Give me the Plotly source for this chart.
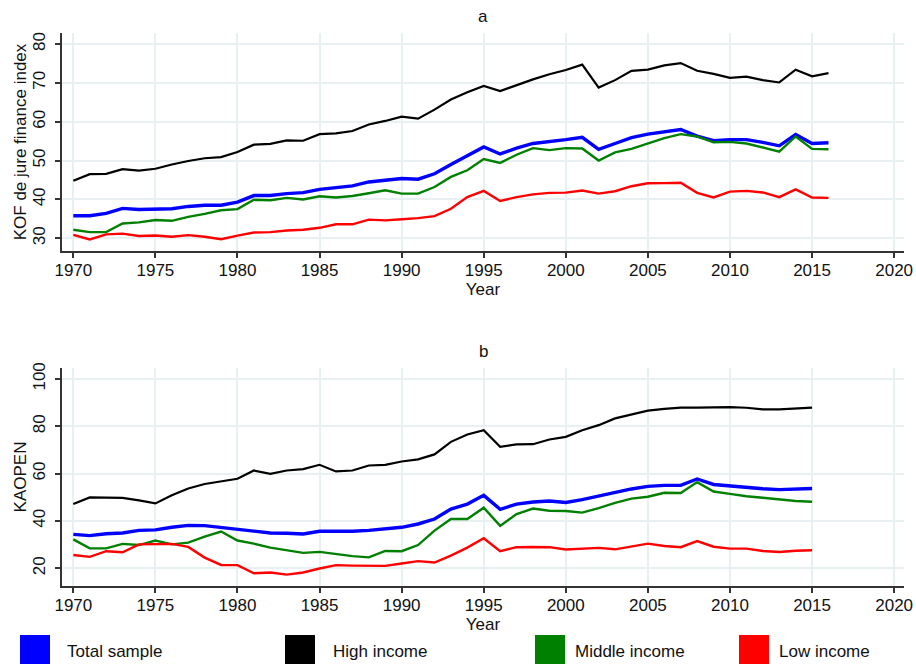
import plotly.graph_objects as go

years_a = list(range(1970, 2017))
years_b = list(range(1970, 2016))

kof_total = [35.8, 35.8, 36.4, 37.7, 37.4, 37.4, 37.6, 38.2, 38.5, 38.5,
             39.3, 41.0, 41.0, 41.5, 41.75, 42.6, 43.0, 43.5, 44.5, 44.9,
             45.4, 45.2, 46.6, 49.0, 51.3, 53.5, 51.7, 53.2, 54.4, 54.8,
             55.4, 56.0, 52.9, 54.4, 55.9, 56.8, 57.5, 58.0, 56.3, 55.1,
             55.4, 55.4, 54.7, 53.8, 56.7, 54.4, 54.6]
kof_high = [44.8, 46.5, 46.6, 47.8, 47.4, 47.9, 49.0, 49.9, 50.6, 50.9,
            52.2, 54.1, 54.3, 55.2, 55.1, 56.8, 57.0, 57.6, 59.3, 60.2,
            61.3, 60.8, 63.1, 65.7, 67.6, 69.2, 67.9, 69.5, 70.9, 72.2,
            73.3, 74.7, 68.8, 70.7, 73.1, 73.4, 74.5, 75.1, 73.1, 72.3,
            71.3, 71.6, 70.7, 70.1, 73.4, 71.7, 72.5]
kof_middle = [32.2, 31.6, 31.6, 33.8, 34.1, 34.7, 34.5, 35.5, 36.3, 37.2,
              37.5, 39.9, 39.8, 40.4, 40.0, 40.8, 40.5, 40.9, 41.6, 42.35,
              41.5, 41.5, 43.2, 45.8, 47.5, 50.4, 49.4, 51.5, 53.2, 52.7,
              53.2, 53.1, 50.0, 52.1, 53.0, 54.5, 55.8, 56.8, 56.2, 54.7,
              54.8, 54.4, 53.4, 52.3, 56.2, 53.0, 52.9]
kof_low = [30.9, 29.7, 31.0, 31.2, 30.6, 30.7, 30.4, 30.8, 30.4, 29.75,
           30.7, 31.5, 31.6, 32.0, 32.2, 32.7, 33.6, 33.6, 34.8, 34.6,
           34.9, 35.2, 35.7, 37.6, 40.6, 42.2, 39.6, 40.6, 41.3, 41.7,
           41.75, 42.3, 41.5, 42.1, 43.4, 44.15, 44.2, 44.3, 41.7, 40.5,
           42.0, 42.2, 41.8, 40.6, 42.6, 40.5, 40.4]

kaopen_total = [34.3, 33.8, 34.6, 34.9, 36.0, 36.2, 37.3, 38.1, 38.0, 37.3,
                36.45, 35.9, 34.9, 34.8, 34.5, 35.6, 35.6, 35.6, 36.0, 36.6,
                37.3, 38.7, 40.8, 45.0, 47.1, 50.8, 44.9, 47.1, 48.0, 48.4,
                47.8, 49.0, 50.5, 51.9, 53.5, 54.6, 55.0, 55.0, 57.7, 55.4,
                54.7, 54.3, 53.6, 53.2, 53.5, 53.7]
kaopen_high = [47.1, 49.95, 49.8, 49.7, 48.7, 47.4, 50.8, 53.7, 55.6, 56.7,
               57.8, 61.3, 59.9, 61.3, 61.9, 63.7, 60.9, 61.3, 63.4, 63.7,
               65.1, 66.0, 68.1, 73.4, 76.5, 78.3, 71.3, 72.3, 72.4, 74.4,
               75.5, 78.3, 80.45, 83.3, 85.1, 86.6, 87.35, 87.9, 87.9, 88.05,
               88.05, 87.8, 87.1, 87.1, 87.6, 87.9]
kaopen_middle = [32.2, 28.4, 28.4, 30.3, 29.8, 31.7, 30.1, 30.8, 33.4, 35.5,
                 31.7, 30.4, 28.7, 27.7, 26.5, 26.9, 25.9, 25.1, 24.6, 27.3,
                 27.2, 29.8, 35.9, 40.8, 40.8, 45.6, 37.9, 42.9, 45.2, 44.3,
                 44.2, 43.5, 45.4, 47.6, 49.4, 50.2, 51.9, 51.8, 56.4, 52.4,
                 51.4, 50.4, 49.8, 49.0, 48.4, 48.1]
kaopen_low = [25.6, 24.8, 27.2, 26.75, 30.1, 30.3, 30.3, 29.0, 24.5, 21.4,
              21.3, 17.9, 18.2, 17.3, 18.2, 19.9, 21.3, 21.1, 21.0, 21.0,
              22.0, 23.0, 22.4, 25.3, 28.7, 32.65, 27.2, 28.9, 29.0, 28.9,
              27.9, 28.3, 28.6, 28.0, 29.1, 30.4, 29.4, 28.9, 31.5, 29.1,
              28.3, 28.3, 27.3, 26.85, 27.4, 27.6]

series_names = ["Total sample", "High income", "Middle income", "Low income"]
series_colors = ["#0000ff", "#000000", "#008000", "#ff0000"]
series_widths = [3.4, 2.2, 2.4, 2.4]
panel_a = [kof_total, kof_high, kof_middle, kof_low]
panel_b = [kaopen_total, kaopen_high, kaopen_middle, kaopen_low]

W, H = 916, 664
ML, MR, MT, MB = 62, 12, 33, 78
PW = W - ML - MR
PH = H - MT - MB


def px_x(px):
    return (px - ML) / PW


def px_y(py):
    return (H - MB - py) / PH


FONT = "Liberation Sans, Arial, sans-serif"

fig = go.Figure()
for name, color, width, ya, yb in zip(series_names, series_colors, series_widths, panel_a, panel_b):
    fig.add_trace(go.Scatter(x=years_a, y=ya, mode="lines", name=name,
                             line=dict(color=color, width=width),
                             xaxis="x", yaxis="y", showlegend=False))
    fig.add_trace(go.Scatter(x=years_b, y=yb, mode="lines", name=name,
                             line=dict(color=color, width=width),
                             xaxis="x2", yaxis="y2", showlegend=False))

grid = "#e8f0f2"
axis_common = dict(showline=True, linecolor="#333333", linewidth=1.5, automargin=False,
                   ticks="outside", ticklen=5, tickwidth=1.5, tickcolor="#333333",
                   showgrid=True, gridcolor=grid, gridwidth=1.5, zeroline=False,
                   tickfont=dict(family=FONT, size=17, color="#111111"))

xr = [1969.31, 2020.6]
fig.update_layout(
    width=W, height=H,
    margin=dict(l=ML, r=MR, t=MT, b=MB),
    paper_bgcolor="white", plot_bgcolor="white",
    font=dict(family=FONT, size=17, color="#111111"),
    xaxis=dict(domain=[0, 1], anchor="y", range=xr, tick0=1970, dtick=5,
               ticklabelstandoff=-2,
               title=dict(text="Year", standoff=2, font=dict(size=17)), **axis_common),
    yaxis=dict(domain=[px_y(251), 1.0], anchor="x", range=[26.73, 82.83],
               tickvals=[30, 40, 50, 60, 70, 80], tickangle=-90, ticklabelstandoff=3,
               title=dict(text="KOF de jure finance index", standoff=0, font=dict(size=17)),
               **axis_common),
    xaxis2=dict(domain=[0, 1], anchor="y2", range=xr, tick0=1970, dtick=5,
                ticklabelstandoff=-2,
                title=dict(text="Year", standoff=2, font=dict(size=17)), **axis_common),
    yaxis2=dict(domain=[0, px_y(368)], anchor="x2", range=[12.5, 104.6],
                tickvals=[20, 40, 60, 80, 100], tickangle=-90, ticklabelstandoff=3,
                title=dict(text="KAOPEN", standoff=0, font=dict(size=17)), **axis_common),
)

# panel titles
fig.add_annotation(text="a", x=0.5, y=px_y(16.7), xref="paper", yref="paper",
                   showarrow=False, yanchor="middle", font=dict(size=17))
fig.add_annotation(text="b", x=0.5, y=px_y(351.7), xref="paper", yref="paper",
                   showarrow=False, yanchor="middle", font=dict(size=17))

# legend (keys drawn as squares below the plot)
key_left = [20, 285, 535, 739]
text_left = [65, 331, 573, 777]
for name, color, kx, tx in zip(series_names, series_colors, key_left, text_left):
    fig.add_shape(type="rect", xref="paper", yref="paper",
                  x0=px_x(kx), x1=px_x(kx + 30), y0=px_y(664), y1=px_y(635),
                  fillcolor=color, line=dict(width=0))
    fig.add_annotation(text=name, xref="paper", yref="paper",
                       x=px_x(tx), y=px_y(651), xanchor="left", yanchor="middle",
                       showarrow=False, font=dict(size=17))

fig.write_html("out.html", config={"displayModeBar": False},
               post_script="document.body.style.margin='0';document.body.style.overflow='hidden';")
